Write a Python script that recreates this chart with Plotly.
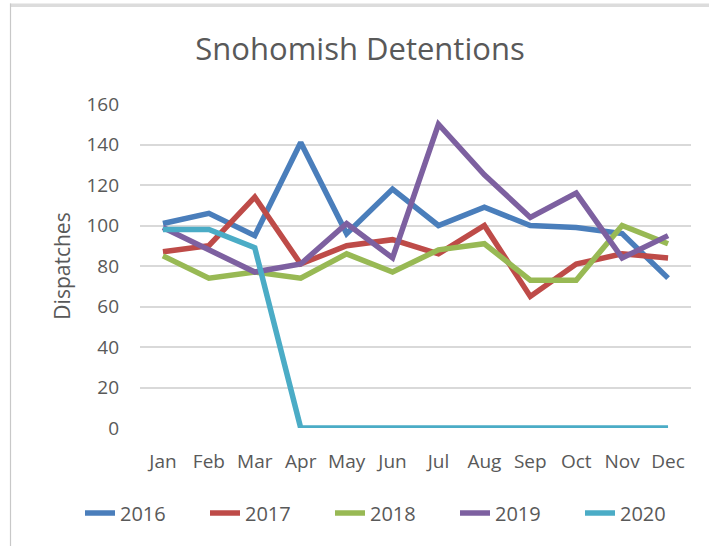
import plotly.graph_objects as go

months = ["Jan", "Feb", "Mar", "Apr", "May", "Jun", "Jul", "Aug", "Sep", "Oct", "Nov", "Dec"]
y2016 = [101, 106, 95, 141, 96, 118, 100, 109, 100, 99, 96, 74]
y2017 = [87, 90, 114, 81, 90, 93, 86, 100, 65, 81, 86, 84]
y2018 = [85, 74, 77, 74, 86, 77, 88, 91, 73, 73, 100, 91]
y2019 = [99, 88, 77, 81, 101, 84, 150, 125, 104, 116, 84, 95]
y2020 = [98, 98, 89, 0, 0, 0, 0, 0, 0, 0, 0, 0]
series = [("2016", y2016, "#4A7EBB"), ("2017", y2017, "#BE4B48"),
          ("2018", y2018, "#98B954"), ("2019", y2019, "#7D60A0"),
          ("2020", y2020, "#4BACC6")]

W, H = 709, 546
L, R, T, B = 140, 691, 104, 428
FONT = "Open Sans"
GREY = "#595959"

fig = go.Figure()
for name, vals, col in series:
    fig.add_trace(go.Scatter(x=months, y=vals, name=name, mode="lines",
                             line=dict(color=col, width=5.5)))

def px(p):
    return (p - L) / (R - L)

def py(p):
    return (B - p) / (B - T)

fig.update_layout(
    width=W, height=H,
    margin=dict(l=L, r=W - R, t=T, b=H - B, autoexpand=False),
    paper_bgcolor="white", plot_bgcolor="white",
    font=dict(family=FONT, color=GREY),
    title=dict(text="Snohomish Detentions", x=360 / W, xref="container", xanchor="center",
               y=1 - 49 / H, yref="container", yanchor="middle",
               font=dict(size=31, color=GREY, family=FONT)),
    xaxis=dict(range=[-0.5, 11.5], showgrid=False, showline=False, zeroline=False, ticks="",
               tickfont=dict(size=19, color=GREY), ticklabelstandoff=20),
    yaxis=dict(range=[0, 160], dtick=20, showgrid=True, gridcolor="#D9D9D9", gridwidth=1.6,
               zeroline=False, showline=False, ticks="",
               tickfont=dict(size=19, color=GREY), ticklabelstandoff=20,
               title=dict(text="Dispatches", font=dict(size=21, color=GREY), standoff=10)),
    legend=dict(orientation="h", x=px(80), xanchor="left", y=py(513), yanchor="middle",
                font=dict(size=20, color=GREY), entrywidth=80, entrywidthmode="pixels",
                itemwidth=30, traceorder="normal"),
    shapes=[
        dict(type="rect", xref="paper", yref="paper", x0=px(10), x1=px(W + 5), y0=py(7), y1=py(3.5),
             fillcolor="#DCDCDC", line=dict(width=0), layer="above"),
        dict(type="line", xref="paper", yref="paper", x0=px(10.5), x1=px(10.5), y0=py(3.5), y1=py(H + 5),
             line=dict(color="#C8C8C8", width=1.2), layer="above"),
    ],
)

fig.write_html("out.html", config={"displayModeBar": False},
               post_script="document.body.style.margin='0px';")
